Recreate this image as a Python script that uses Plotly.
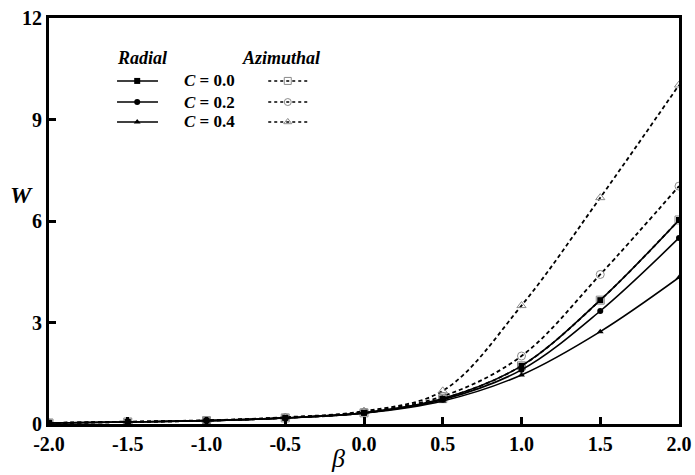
import plotly.graph_objects as go

# beta values (x) shared by every series
beta = [-2.0, -1.5, -1.0, -0.5, 0.0, 0.5, 1.0, 1.5, 2.0]

# W for the radial case
radial_c00 = [0.03, 0.06, 0.10, 0.18, 0.33, 0.75, 1.72, 3.66, 6.03]
radial_c02 = [0.03, 0.06, 0.10, 0.18, 0.33, 0.72, 1.60, 3.34, 5.50]
radial_c04 = [0.03, 0.06, 0.10, 0.18, 0.32, 0.68, 1.45, 2.73, 4.33]

# W for the azimuthal case
azim_c00 = [0.03, 0.06, 0.10, 0.18, 0.33, 0.75, 1.72, 3.66, 6.03]
azim_c02 = [0.03, 0.06, 0.10, 0.19, 0.35, 0.82, 2.01, 4.42, 7.03]
azim_c04 = [0.03, 0.07, 0.11, 0.20, 0.38, 0.98, 3.50, 6.69, 10.02]

c_labels = ["0.0", "0.2", "0.4"]
x_ticks = [-2.0, -1.5, -1.0, -0.5, 0.0, 0.5, 1.0, 1.5, 2.0]
y_ticks = [0, 3, 6, 9, 12]

FONT = "Liberation Serif"
symbols_filled = ["square", "circle", "triangle-up"]
symbols_open = ["square-open", "circle-open", "triangle-up-open"]

fig = go.Figure()

radial = [radial_c00, radial_c02, radial_c04]
azim = [azim_c00, azim_c02, azim_c04]

for vals, sym in zip(azim, symbols_open):
    fig.add_trace(go.Scatter(
        x=beta, y=vals, mode="lines+markers",
        line=dict(color="black", width=1.8, dash="4px,3px", shape="spline", smoothing=1.0),
        marker=dict(symbol=sym, size=8, color="#8a8a8a", line=dict(width=1, color="#8a8a8a")),
        showlegend=False, hoverinfo="skip",
    ))

for vals, sym in zip(radial, symbols_filled):
    fig.add_trace(go.Scatter(
        x=beta, y=vals, mode="lines+markers",
        line=dict(color="black", width=1.6, shape="spline", smoothing=1.0),
        marker=dict(symbol=sym, size=6, color="black"),
        showlegend=False, hoverinfo="skip",
    ))

# hand-drawn key on an overlay axis spanning the plot area (0..1)
rows = [0.845, 0.793, 0.744]
for yy, fs, os_ in zip(rows, symbols_filled, symbols_open):
    fig.add_trace(go.Scatter(
        x=[0.108, 0.173], y=[yy, yy], mode="lines",
        line=dict(color="black", width=1.6), xaxis="x2", yaxis="y2",
        showlegend=False, hoverinfo="skip"))
    fig.add_trace(go.Scatter(
        x=[0.140], y=[yy], mode="markers",
        marker=dict(symbol=fs, size=6, color="black"), xaxis="x2", yaxis="y2",
        showlegend=False, hoverinfo="skip"))
    fig.add_trace(go.Scatter(
        x=[0.348, 0.411], y=[yy, yy], mode="lines",
        line=dict(color="black", width=1.4, dash="3px,3px"), xaxis="x2", yaxis="y2",
        showlegend=False, hoverinfo="skip"))
    fig.add_trace(go.Scatter(
        x=[0.379], y=[yy], mode="markers",
        marker=dict(symbol=os_, size=7, color="#8a8a8a", line=dict(width=1, color="#8a8a8a")),
        xaxis="x2", yaxis="y2", showlegend=False, hoverinfo="skip"))

annotations = [
    dict(x=0.148, y=0.901, text="<b><i>Radial</i></b>", size=18),
    dict(x=0.368, y=0.901, text="<b><i>Azimuthal</i></b>", size=18),
]
for yy, c in zip(rows, c_labels):
    annotations.append(dict(x=0.254, y=yy, text=f"<b><i>C</i> = {c}</b>", size=17))
annotations = [dict(xref="paper", yref="paper", x=a["x"], y=a["y"], text=a["text"],
                    showarrow=False, font=dict(family=FONT, size=a["size"], color="black"),
                    xanchor="center", yanchor="middle") for a in annotations]

annotations.append(dict(xref="paper", yref="paper", x=-0.043, y=0.564, showarrow=False,
                        text="<b><i>W</i></b>", font=dict(family=FONT, size=24, color="black"),
                        xanchor="center", yanchor="middle"))
annotations.append(dict(xref="paper", yref="paper", x=0.459, y=-0.086, showarrow=False,
                        text="<i>β</i>", font=dict(family=FONT, size=26, color="black"),
                        xanchor="center", yanchor="middle"))

fig.update_layout(
    width=695, height=475,
    margin=dict(l=49, r=16, t=18, b=51, autoexpand=False),
    paper_bgcolor="white", plot_bgcolor="white",
    font=dict(family=FONT, color="black"),
    annotations=annotations,
    xaxis=dict(
        range=[-2, 2], tickvals=x_ticks, ticktext=[f"<b>{v:.1f}</b>" for v in x_ticks],
        ticks="inside", ticklen=7, tickwidth=2.5, tickcolor="black",
        showline=True, linewidth=3, linecolor="black", mirror=True,
        showgrid=False, zeroline=False, automargin=False,
        tickfont=dict(family=FONT, size=20, color="black"),
    ),
    yaxis=dict(
        range=[0, 12], tickvals=y_ticks, ticktext=[f"<b>{v}</b>" for v in y_ticks],
        ticks="inside", ticklen=7, tickwidth=2.5, tickcolor="black",
        showline=True, linewidth=3, linecolor="black", mirror=True,
        showgrid=False, zeroline=False, automargin=False,
        tickfont=dict(family=FONT, size=20, color="black"),
    ),
    xaxis2=dict(range=[0, 1], overlaying="x", visible=False, fixedrange=True),
    yaxis2=dict(range=[0, 1], overlaying="y", visible=False, fixedrange=True),
)

fig.write_html("out.html")
